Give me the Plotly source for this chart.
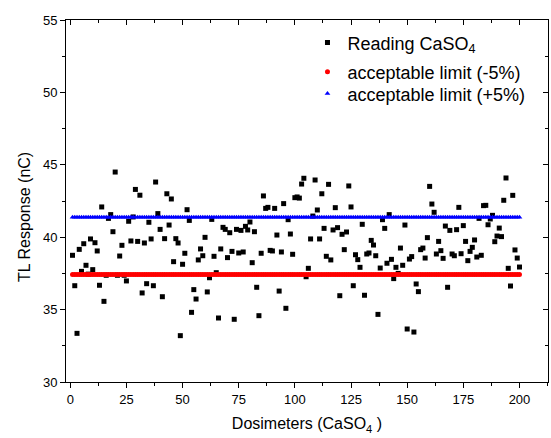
import plotly.graph_objects as go

dosimeter_no = list(range(1, 201))

reading_caso4 = [
    38.75, 36.65, 33.36, 39.16, 37.64, 39.55, 38.06, 37.45, 39.88, 37.76,
    39.62, 39.05, 36.68, 42.09, 35.57, 37.37, 41.30, 41.56, 40.38, 44.50,
    37.37, 38.70, 39.44, 37.37, 36.98, 41.10, 39.74, 41.40, 43.30, 39.71,
    42.90, 36.15, 39.60, 36.79, 41.03, 39.88, 36.65, 43.81, 41.63, 40.54,
    35.89, 39.90, 43.00, 40.84, 42.64, 38.31, 39.90, 39.60, 33.20, 38.13,
    38.89, 41.90, 41.16, 34.81, 36.38, 35.73, 38.43, 39.19, 38.72, 39.99,
    36.22, 37.20, 41.23, 38.68, 37.55, 34.42, 39.19, 40.68, 40.54, 38.59,
    40.31, 39.02, 34.33, 40.54, 38.91, 40.47, 38.98, 40.75, 40.50, 41.05,
    38.24, 40.38, 36.54, 34.58, 38.89, 42.85, 41.99, 42.06, 39.09, 39.05,
    41.99, 40.15, 36.28, 38.98, 42.32, 35.09, 41.21, 40.22, 38.82, 42.73,
    42.78, 42.70, 43.67, 44.07, 37.27, 37.85, 39.88, 41.46, 43.95, 41.88,
    39.88, 43.00, 40.61, 38.68, 43.65, 38.43, 40.50, 42.04, 40.66, 35.96,
    40.20, 39.14, 40.36, 43.54, 42.09, 36.65, 38.79, 38.45, 37.92, 40.89,
    35.99, 38.84, 38.91, 39.78, 39.46, 38.72, 34.67, 37.87, 41.21, 40.61,
    38.20, 41.56, 38.47, 37.14, 37.92, 37.50, 39.25, 38.06, 40.84, 33.66,
    38.49, 38.66, 33.45, 36.77, 36.24, 39.14, 39.25, 38.56, 39.97, 43.51,
    42.29, 41.72, 38.84, 39.71, 39.07, 38.54, 40.77, 36.54, 40.47, 38.84,
    38.72, 40.52, 42.06, 38.86, 40.80, 39.71, 38.38, 39.02, 39.30, 39.81,
    38.63, 41.30, 38.75, 42.18, 42.20, 40.86, 41.26, 41.51, 39.69, 40.08,
    40.63, 40.04, 42.55, 44.09, 37.85, 36.63, 42.89, 39.12, 38.56, 37.94,
]

lower_limit_value = 37.43
upper_limit_value = 41.37
lower_limit = [lower_limit_value] * len(dosimeter_no)
upper_limit = [upper_limit_value] * len(dosimeter_no)

x_ticks = [0, 25, 50, 75, 100, 125, 150, 175, 200]
y_ticks = [30, 35, 40, 45, 50, 55]

FONT = "Liberation Sans, Arial, sans-serif"
x_range = [-1.9, 212.7]
y_range = [30, 55]

fig = go.Figure()
fig.add_trace(go.Scatter(
    x=dosimeter_no, y=reading_caso4, mode="markers",
    name="Reading CaSO<sub>4</sub>", legend="legend",
    marker=dict(symbol="square", size=5, color="#000000"),
))
fig.add_trace(go.Scatter(
    x=dosimeter_no, y=lower_limit, mode="markers",
    name="acceptable limit (-5%)", legend="legend2",
    marker=dict(symbol="circle", size=5, color="#ff0000"),
))
fig.add_trace(go.Scatter(
    x=dosimeter_no, y=upper_limit, mode="markers",
    name="acceptable limit (+5%)", legend="legend3",
    marker=dict(symbol="triangle-up", size=5, color="#0000ff"),
))
# empty trace so the inward-tick top/right axes get drawn
fig.add_trace(go.Scatter(
    x=[None], y=[None], xaxis="x2", yaxis="y2", mode="markers",
    showlegend=False, hoverinfo="skip",
))

def legend_box(ypos):
    return dict(
        x=0.501, y=ypos, xanchor="left", yanchor="middle",
        bgcolor="rgba(0,0,0,0)", borderwidth=0,
        font=dict(family=FONT, size=18, color="#000000"),
        itemsizing="trace",
    )

fig.update_layout(
    width=551, height=438,
    margin=dict(l=66, r=3, t=20, b=56, autoexpand=False),
    paper_bgcolor="white", plot_bgcolor="white",
    font=dict(family=FONT, size=13, color="#000000"),
    showlegend=True,
    legend=legend_box(0.937),
    legend2=legend_box(0.856),
    legend3=legend_box(0.796),
    xaxis=dict(
        range=x_range, tickmode="array", tickvals=x_ticks,
        ticktext=[str(v) for v in x_ticks], automargin=False,
        showgrid=False, zeroline=False,
        showline=True, linecolor="#000000", linewidth=1, mirror=True,
        ticks="outside", ticklen=5, tickwidth=1, tickcolor="#000000",
        minor=dict(dtick=12.5, tick0=0, ticks="outside", ticklen=3,
                   tickcolor="#000000", showgrid=False),
        tickfont=dict(size=13),
        title=dict(text="Dosimeters (CaSO<sub>4</sub> )",
                   font=dict(size=16), standoff=12),
    ),
    yaxis=dict(
        range=y_range, tickmode="array", tickvals=y_ticks,
        ticktext=[str(v) for v in y_ticks], automargin=False,
        showgrid=False, zeroline=False,
        showline=True, linecolor="#000000", linewidth=1, mirror=True,
        ticks="outside", ticklen=5, tickwidth=1, tickcolor="#000000",
        minor=dict(dtick=2.5, tick0=30, ticks="outside", ticklen=3,
                   tickcolor="#000000", showgrid=False),
        tickfont=dict(size=13),
    ),
    xaxis2=dict(
        overlaying="x", side="top", anchor="y", range=x_range,
        tickmode="array", tickvals=x_ticks, showticklabels=False,
        showgrid=False, zeroline=False, showline=False, automargin=False,
        ticks="inside", ticklen=5, tickcolor="#000000",
        minor=dict(dtick=12.5, tick0=0, ticks="inside", ticklen=3,
                   tickcolor="#000000", showgrid=False),
    ),
    yaxis2=dict(
        overlaying="y", side="right", anchor="x", range=y_range,
        tickmode="array", tickvals=y_ticks, showticklabels=False,
        showgrid=False, zeroline=False, showline=False, automargin=False,
        ticks="inside", ticklen=5, tickcolor="#000000",
        minor=dict(dtick=2.5, tick0=30, ticks="inside", ticklen=3,
                   tickcolor="#000000", showgrid=False),
    ),
    annotations=[dict(
        text="TL Response (nC)", textangle=-90,
        xref="paper", yref="paper", x=-0.085, y=0.456,
        xanchor="center", yanchor="middle", showarrow=False,
        font=dict(family=FONT, size=16, color="#000000"),
    )],
)

fig.write_html(
    "out.html",
    config={"displayModeBar": False},
    post_script="document.body.style.margin='0';document.body.style.overflow='hidden';",
)
